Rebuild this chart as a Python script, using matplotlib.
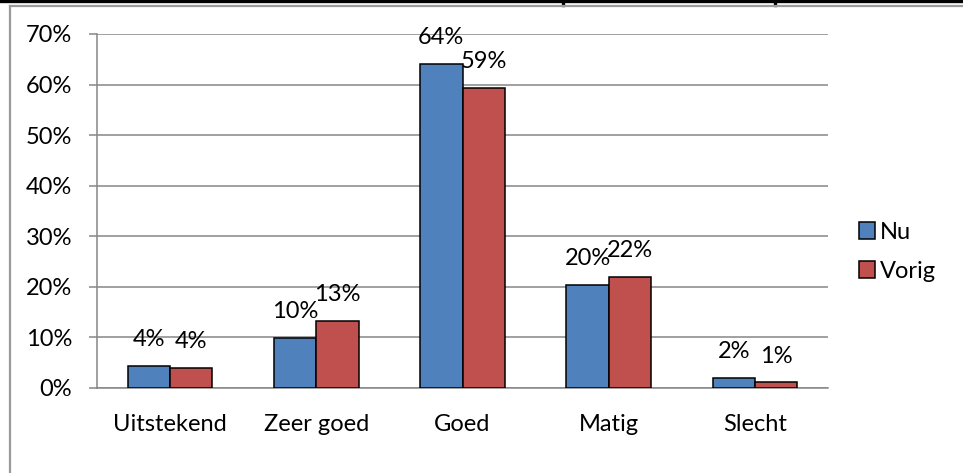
import matplotlib
matplotlib.use("Agg")
import matplotlib.pyplot as plt
from matplotlib.lines import Line2D
import numpy as np

categories = ["Uitstekend", "Zeer goed", "Goed", "Matig", "Slecht"]
nu = [4.4, 9.9, 64.0, 20.4, 2.0]
vorig = [3.9, 13.3, 59.3, 22.0, 1.1]
series_names = ["Nu", "Vorig"]
colors = ["#4F81BD", "#C0504D"]
yticks = [0, 10, 20, 30, 40, 50, 60, 70]

plt.rcParams['font.family'] = ['Lato', 'DejaVu Sans']
FS = 17
W, H = 963, 473
fig = plt.figure(figsize=(W / 100, H / 100), dpi=100)
ax = fig.add_axes([97 / W, 1 - 388 / H, (828 - 97) / W, (388 - 34) / H])

x = np.arange(len(categories))
bw = 0.29
for i, (vals, name, c) in enumerate(zip([nu, vorig], series_names, colors)):
    offs = (i - 0.5) * bw
    ax.bar(x + offs, vals, width=bw, color=c, edgecolor="black",
           linewidth=1.1, label=name, zorder=3)
    for xi, v in zip(x + offs, vals):
        ax.annotate(f"{round(v):.0f}%", (xi, v), xytext=(0, 19),
                    textcoords="offset points", ha="center", va="center",
                    fontsize=FS, color="black", zorder=4)

ax.set_xlim(-0.5, len(categories) - 0.5)
ax.set_ylim(0, 70)
ax.set_yticks(yticks)
ax.set_yticklabels([f"{t}%" for t in yticks], fontsize=FS)
ax.set_xticks(x)
ax.set_xticklabels(categories, fontsize=FS)
ax.tick_params(axis="x", length=0, pad=19)
ax.tick_params(axis="y", length=6, width=1.1, color="#868686", pad=12)
ax.yaxis.grid(True, color="#868686", linewidth=1.1, zorder=0)
for s in ["top", "right"]:
    ax.spines[s].set_visible(False)
for s in ["left", "bottom"]:
    ax.spines[s].set_color("#868686")
    ax.spines[s].set_linewidth(1.1)
ax.set_axisbelow(True)

leg = ax.legend(loc="center left", bbox_to_anchor=(1.013, 0.385), frameon=False,
                fontsize=FS, handlelength=0.7, handleheight=0.7,
                handletextpad=0.2, labelspacing=0.75)

# Page border lines around the chart
def px_line(x0, y0, x1, y1, **kw):
    fig.add_artist(Line2D([x0 / W, x1 / W], [1 - y0 / H, 1 - y1 / H],
                          transform=fig.transFigure, **kw))

px_line(0, 1.5, W, 1.5, color="black", linewidth=2.4)
px_line(563, 0, 563, 5, color="black", linewidth=2.4)
px_line(775, 0, 775, 5, color="black", linewidth=2.4)
px_line(10, 6.5, W, 6.5, color="#9a9a9a", linewidth=1.6)
px_line(10, 6.5, 10, H, color="#9a9a9a", linewidth=1.6)

fig.savefig("out.png", dpi=100)
